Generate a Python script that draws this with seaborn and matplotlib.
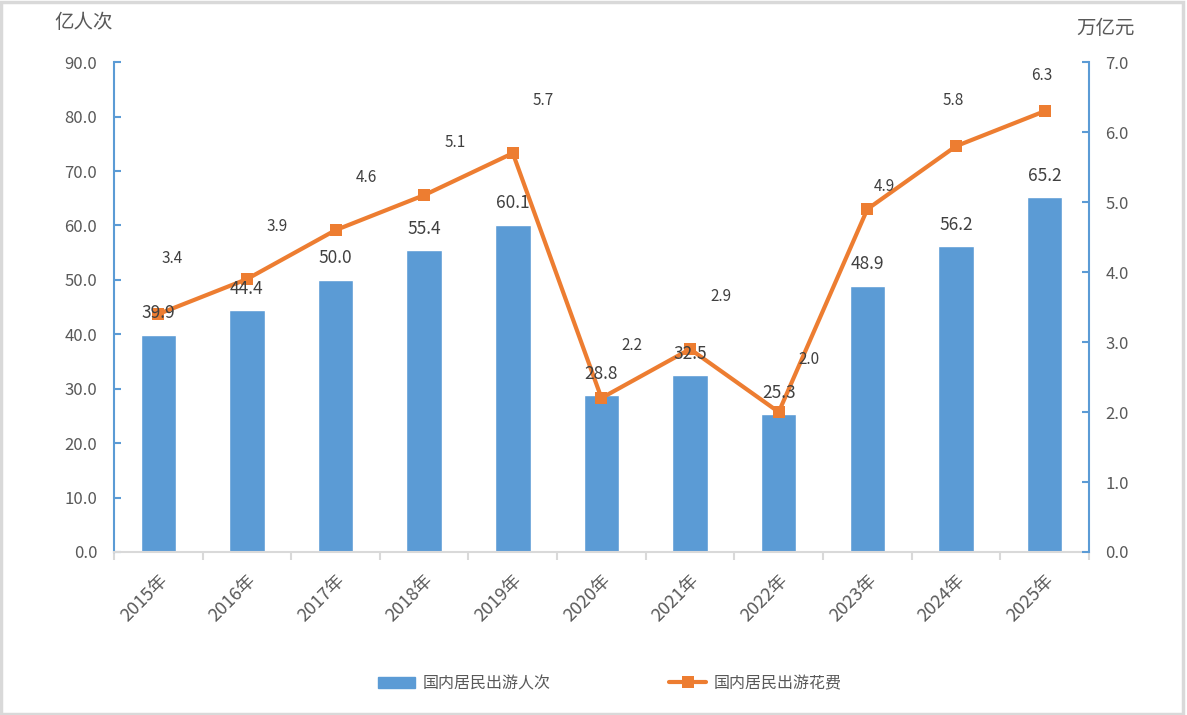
import numpy as np
import pandas as pd
import matplotlib.pyplot as plt
import seaborn as sns
from matplotlib.patches import Rectangle
from matplotlib.lines import Line2D
from matplotlib.patches import Patch

anos = ["2015年", "2016年", "2017年", "2018年", "2019年", "2020年",
        "2021年", "2022年", "2023年", "2024年", "2025年"]
pessoas = [39.9, 44.4, 50.0, 55.4, 60.1, 28.8, 32.5, 25.3, 48.9, 56.2, 65.2]
gastos = [3.4, 3.9, 4.6, 5.1, 5.7, 2.2, 2.9, 2.0, 4.9, 5.8, 6.3]

# deslocamento dos rótulos da linha (pontos)
desloc_rotulos = [(10, 40), (22, 38), (22, 38), (22, 38), (22, 38), (22, 38),
                  (22, 38), (22, 38), (12, 16), (-2, 33), (-2, 26)]

azul = "#5b9bd5"
laranja = "#ed7d31"
cinza_txt = "#595959"

sns.set_theme(style="white")
plt.rcParams["font.family"] = ["Noto Sans CJK SC", "DejaVu Sans"]

df = pd.DataFrame({"ano": anos, "pessoas": pessoas, "gastos": gastos})

fig = plt.figure(figsize=(11.87, 7.15), dpi=100)
ax = fig.add_axes([0.096, 0.228, 0.8214, 0.685])

sns.barplot(data=df, x="ano", y="pessoas", color=azul, width=0.4,
            saturation=1, ax=ax)
ax.set_ylim(0, 90)
ax.set_xlim(-0.5, len(anos) - 0.5)
ax.set_yticks(np.arange(0, 91, 10))
ax.set_yticklabels([f"{v:.1f}" for v in np.arange(0, 91, 10)])
ax.set_xlabel("")
ax.set_ylabel("")

ax2 = ax.twinx()
ax2.set_position(ax.get_position())
sns.lineplot(x=df.index, y=df["gastos"], color=laranja, linewidth=3,
             marker="s", markersize=9, markeredgewidth=0, ax=ax2)
ax2.set_ylim(0, 7)
ax2.set_yticks(np.arange(0, 7.1, 1))
ax2.set_yticklabels([f"{v:.1f}" for v in np.arange(0, 7.1, 1)])
ax2.set_ylabel("")
ax2.set_xlim(-0.5, len(anos) - 0.5)

# rótulos das barras por cima da linha
for i, v in enumerate(pessoas):
    ax2.text(i, v + 2.3, f"{v:.1f}", ha="center", va="bottom", transform=ax.transData,
             fontsize=12.5, color="#404040", zorder=10)

for i, v in enumerate(gastos):
    dx, dy = desloc_rotulos[i]
    ax2.annotate(f"{v:.1f}", (i, v), xytext=(dx, dy), textcoords="offset points",
                 ha="center", va="center", fontsize=11, color="#404040")

for a in (ax, ax2):
    for s in a.spines.values():
        s.set_visible(False)
ax.spines["left"].set_visible(True)
ax.spines["left"].set_color(azul)
ax.spines["left"].set_linewidth(1.5)
ax.spines["bottom"].set_visible(True)
ax.spines["bottom"].set_color("#d9d9d9")
ax.spines["bottom"].set_linewidth(1.5)
ax2.spines["right"].set_visible(True)
ax2.spines["right"].set_color(azul)
ax2.spines["right"].set_linewidth(1.5)

ax.tick_params(axis="y", direction="in", length=5, width=1.5, color=azul,
               labelsize=12, labelcolor=cinza_txt, pad=12, left=True)
ax2.tick_params(axis="y", direction="in", length=5, width=1.5, color=azul,
                labelsize=12, labelcolor=cinza_txt, pad=12, right=True)

ax.set_xticks(range(len(anos)))
ax.set_xticklabels(anos, rotation=45, ha="right", rotation_mode="anchor",
                   fontsize=13, color=cinza_txt)
ax.set_xticks(np.arange(-0.5, len(anos), 1), minor=True)
ax.tick_params(axis="x", which="major", length=0, pad=14)
ax.tick_params(axis="x", which="minor", direction="out", length=6, width=1.5,
               color="#d9d9d9", bottom=True)
ax2.tick_params(axis="x", which="both", bottom=False, top=False,
                labelbottom=False, labeltop=False)

fig.text(0.046, 0.968, "亿人次", fontsize=14, color=cinza_txt, ha="left", va="center")
fig.text(0.907, 0.960, "万亿元", fontsize=14, color=cinza_txt, ha="left", va="center")

handles = [Patch(facecolor=azul, edgecolor=azul),
           Line2D([], [], color=laranja, linewidth=3, marker="s", markersize=8,
                  markeredgewidth=0)]
fig.legend(handles, ["国内居民出游人次", "国内居民出游花费"], loc="center",
           bbox_to_anchor=(0.514, 0.044), ncol=2, frameon=False, fontsize=11.5,
           handlelength=2.3, handletextpad=0.5, columnspacing=7.4,
           labelcolor=cinza_txt)

fig.patches.append(Rectangle((0.001, 0.002), 0.996, 0.995, transform=fig.transFigure,
                             fill=False, edgecolor="#d9d9d9", linewidth=2.5))

fig.savefig("out.png", dpi=100, facecolor="white")
